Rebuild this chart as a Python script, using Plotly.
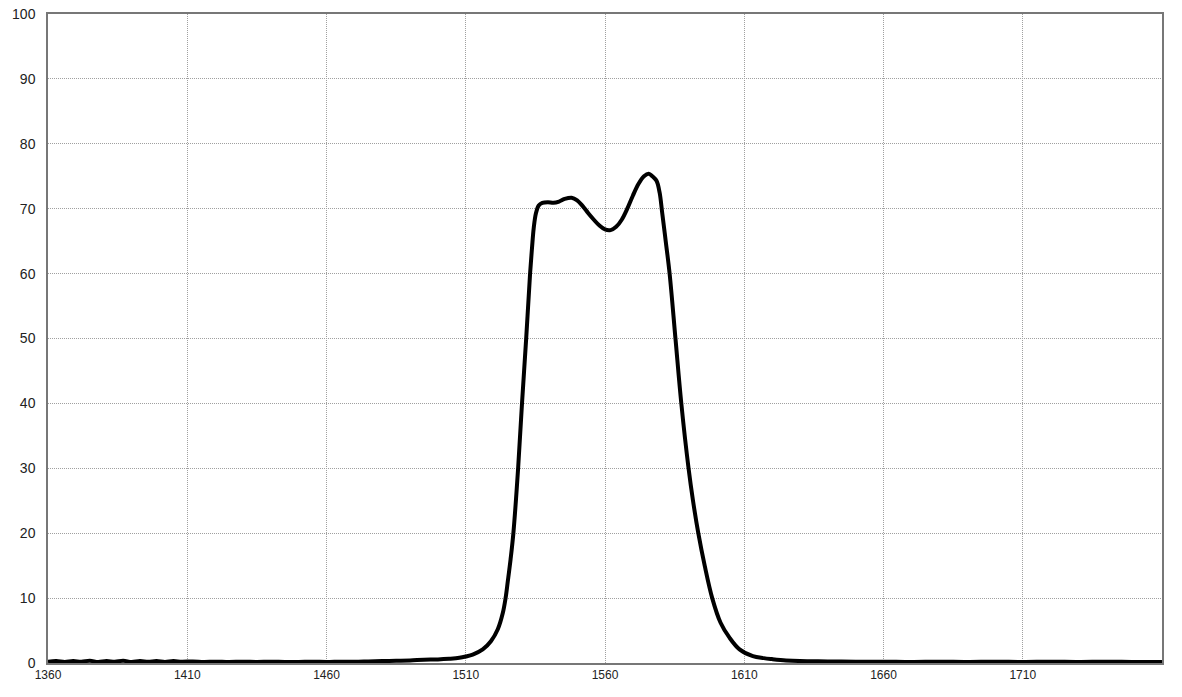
import plotly.graph_objects as go

# wavelength (nm) and transmission (%)
wavelength = [1360, 1363, 1366, 1369, 1372, 1375, 1378, 1381, 1384, 1387, 1390, 1393,
              1396, 1399, 1402, 1405, 1408, 1412, 1416, 1420, 1425, 1430, 1435, 1440,
              1445, 1450, 1455, 1460, 1465, 1470, 1475, 1480, 1485, 1490, 1495, 1500,
              1504, 1507.7, 1510, 1512.5, 1516.1, 1519.1, 1521.5, 1523.3, 1524.3, 1525.1,
              1526.1, 1527.1, 1528.8, 1530.2, 1531.7, 1533.1, 1533.8, 1534.4, 1535.2,
              1536.2, 1537.5, 1539.5, 1541.5, 1543.5, 1545.5, 1548, 1550, 1552, 1554,
              1556, 1558, 1560, 1562, 1564, 1566, 1568, 1570, 1572, 1574, 1575.7, 1577,
              1578.5, 1579.6, 1580.5, 1581.8, 1583.2, 1585.3, 1587.4, 1590.0, 1591.6,
              1593.5, 1595.8, 1598.5, 1601.5, 1604.7, 1608.3, 1613.1, 1617, 1620, 1625,
              1630, 1640, 1650, 1660, 1670, 1680, 1690, 1700, 1710, 1720, 1730, 1740,
              1750, 1760]
transmission = [0.2, 0.3, 0.15, 0.3, 0.2, 0.35, 0.15, 0.3, 0.2, 0.35, 0.15, 0.3,
                0.2, 0.3, 0.15, 0.3, 0.2, 0.25, 0.15, 0.2, 0.15, 0.2, 0.15, 0.2,
                0.15, 0.15, 0.2, 0.15, 0.2, 0.2, 0.25, 0.3, 0.35, 0.4, 0.5, 0.55,
                0.65, 0.8, 1.0, 1.3, 2.1, 3.4, 5.2, 7.7, 10.0, 12.6,
                16.0, 20, 30, 40, 50, 60, 64, 67, 69.3,
                70.5, 70.9, 71.0, 70.9, 71.1, 71.5, 71.7, 71.3, 70.4, 69.3,
                68.3, 67.4, 66.8, 66.7, 67.2, 68.3, 70.0, 72.0, 73.8, 75.0, 75.4, 75.0,
                74.3, 72.5, 69.5, 65, 60, 50, 40, 30, 25,
                20, 15, 10, 6.2, 3.9, 2.1, 1.05, 0.75, 0.6, 0.4,
                0.3, 0.25, 0.2, 0.2, 0.15, 0.2, 0.15, 0.2, 0.15, 0.2, 0.15, 0.2,
                0.15, 0.15]

x_ticks = [1360, 1410, 1460, 1510, 1560, 1610, 1660, 1710]
y_ticks = [0, 10, 20, 30, 40, 50, 60, 70, 80, 90, 100]

fig = go.Figure()
fig.add_trace(go.Scatter(x=wavelength, y=transmission, mode="lines",
                         line=dict(color="black", width=4, shape="spline", smoothing=1.0),
                         hoverinfo="skip"))

fig.update_layout(
    width=1182, height=697,
    margin=dict(l=48, r=20, t=14, b=34),
    paper_bgcolor="white", plot_bgcolor="white",
    showlegend=False,
    font=dict(family="Liberation Sans, Arial, sans-serif", color="#222"),
)
fig.update_xaxes(range=[1360, 1760], tickvals=x_ticks, ticktext=[str(v) for v in x_ticks],
                 showgrid=True, gridcolor="#a0a0a0", gridwidth=1, griddash="1px,1px",
                 showline=True, linecolor="#777", linewidth=1.5, mirror=True,
                 ticks="", tickfont=dict(size=12), zeroline=False, automargin=False,
                 ticklabeloverflow="allow")
fig.update_yaxes(range=[0, 100], tickvals=y_ticks,
                 showgrid=True, gridcolor="#a0a0a0", gridwidth=1, griddash="1px,1px",
                 showline=True, linecolor="#777", linewidth=1.5, mirror=True,
                 ticks="", tickfont=dict(size=14), ticklabelstandoff=8,
                 zeroline=False, automargin=False, ticklabeloverflow="allow")

# drop the default 8px body margin so the figure fills the window exactly
fig.write_html("out.html", config={"displayModeBar": False},
               post_script="document.body.style.margin='0';")
